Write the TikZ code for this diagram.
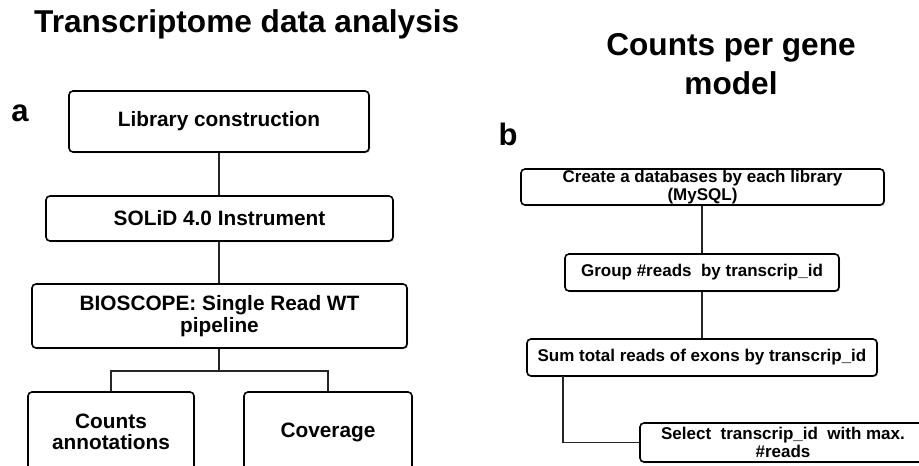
\documentclass[tikz,border=0pt]{standalone}
\usepackage{fontspec}
\setmainfont{Liberation Sans}
\usetikzlibrary{shadows}
\tikzset{
  box/.style={draw=black, line width=1.6pt, rounded corners=4pt, fill=white,
    drop shadow={shadow xshift=1.2pt, shadow yshift=-1.2pt, fill=black!35, opacity=0.6},
    align=center, inner sep=0pt, font=\bfseries\fontsize{20.8}{21.5}\selectfont},
  rbox/.style={box, font=\bfseries\fontsize{17}{18.5}\selectfont},
  link/.style={draw=black!85, line width=1.5pt},
  title/.style={font=\bfseries\fontsize{31.6}{39}\selectfont, inner sep=0pt},
  panel/.style={font=\bfseries\fontsize{31}{31}\selectfont, inner sep=0pt}
}
\begin{document}
\begin{tikzpicture}[x=1pt, y=-1pt]
\useasboundingbox (0,0) rectangle (919,466);
\clip (0,0) rectangle (919,466);
\fill[white] (0,0) rectangle (919,466);

% headings
\node[title, anchor=base west] (ttl) at (34,32) {Transcriptome data analysis};
\node[title, anchor=base] (cttl1) at (731,55) {Counts per gene};
\node[title, anchor=base] (cttl2) at (731,94) {model};
\node[panel] (la) at (20,113) {a};
\node[panel] (lb) at (508,134) {b};

% panel a: sequencing workflow
\node[box, minimum width=300pt, minimum height=61pt] (lib) at (219,121.5) {Library construction};
\node[box, minimum width=347pt, minimum height=45pt] (solid) at (219.5,218.5) {SOLiD 4.0 Instrument};
\node[box, minimum width=375pt, minimum height=64pt] (bio) at (219.5,316) {BIOSCOPE: Single Read WT\\pipeline};
\node[box, minimum width=166pt, minimum height=80pt] (cnt) at (111,432) {Counts\\annotations};
\node[box, minimum width=168pt, minimum height=80pt] (cov) at (328,432) {Coverage};

\coordinate (split) at (219,371);
\draw[link] (lib.south -| split) -- (solid.north -| split);
\draw[link] (solid.south -| split) -- (bio.north -| split);
\draw[link] (bio.south -| split) -- (split);
\draw[link] (cnt.north) |- (split) -| (cov.north);

% panel b: counting reads per gene model
\node[rbox, minimum width=363pt, minimum height=36pt] (db) at (702.5,187) {Create a databases by each library\\(MySQL)};
\node[rbox, minimum width=274pt, minimum height=37pt] (grp) at (702,272.5) {Group \#reads\ \ by transcrip\_id};
\node[rbox, minimum width=350pt, minimum height=37pt] (sum) at (702,357.5) {Sum total reads of exons by transcrip\_id};
\node[rbox, minimum width=286pt, minimum height=39pt] (sel) at (783,442.5) {Select\ \ transcrip\_id\ \ with max.\\\#reads};

\coordinate (sumfoot) at (563,376);
\draw[link] (db.south -| grp.north) -- (grp.north);
\draw[link] (grp.south) -- (sum.north -| grp.south);
\draw[link] (sumfoot) |- (sel.west);
\end{tikzpicture}
\end{document}
